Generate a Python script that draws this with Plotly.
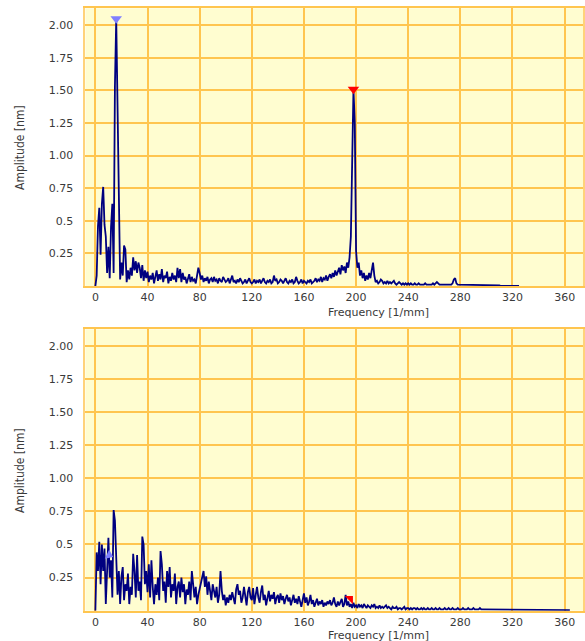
import plotly.graph_objects as go

# ---------------- data ----------------
FREQ_STEP = 1.0  # [1/mm] spacing of spectrum samples

TOP_AMP = [
    0.00, 0.08, 0.46, 0.60, 0.24, 0.63, 0.76, 0.47, 0.38, 0.10, 0.30, 0.06, 0.45, 0.63, 0.10, 1.53, 2.05, 1.35, 0.48, 0.05,
    0.18, 0.08, 0.31, 0.28, 0.03, 0.12, 0.05, 0.14, 0.08, 0.22, 0.12, 0.19, 0.10, 0.18, 0.14, 0.06, 0.16, 0.04, 0.12, 0.06,
    0.11, 0.03, 0.08, 0.05, 0.10, 0.02, 0.07, 0.12, 0.04, 0.09, 0.05, 0.13, 0.03, 0.08, 0.06, 0.11, 0.02, 0.07, 0.04, 0.10,
    0.05, 0.08, 0.03, 0.14, 0.06, 0.13, 0.03, 0.10, 0.05, 0.07, 0.02, 0.06, 0.09, 0.03, 0.07, 0.04, 0.05, 0.02, 0.08, 0.14,
    0.10, 0.05, 0.08, 0.03, 0.06, 0.04, 0.07, 0.02, 0.05, 0.06, 0.03, 0.07, 0.04, 0.05, 0.02, 0.06, 0.04, 0.03, 0.07, 0.05,
    0.03, 0.04, 0.06, 0.02, 0.05, 0.08, 0.03, 0.04, 0.02, 0.05, 0.03, 0.06, 0.04, 0.02, 0.03, 0.05, 0.02, 0.04, 0.06, 0.03,
    0.02, 0.03, 0.05, 0.02, 0.04, 0.03, 0.05, 0.02, 0.04, 0.06, 0.03, 0.02, 0.04, 0.03, 0.05, 0.02, 0.03, 0.08, 0.04, 0.05,
    0.02, 0.03, 0.05, 0.04, 0.02, 0.04, 0.06, 0.03, 0.02, 0.04, 0.03, 0.05, 0.02, 0.03, 0.07, 0.04, 0.02, 0.03, 0.05, 0.02,
    0.04, 0.03, 0.02, 0.04, 0.03, 0.05, 0.02, 0.03, 0.04, 0.06, 0.03, 0.05, 0.04, 0.07, 0.03, 0.06, 0.05, 0.08, 0.04, 0.07,
    0.09, 0.06, 0.10, 0.07, 0.12, 0.08, 0.11, 0.14, 0.09, 0.16, 0.12, 0.15, 0.10, 0.18, 0.14, 0.22, 0.38, 0.90, 1.51, 1.25,
    0.27, 0.14, 0.18, 0.08, 0.12, 0.06, 0.10, 0.04, 0.08, 0.05, 0.10, 0.06, 0.14, 0.18, 0.08, 0.03, 0.04, 0.02, 0.03, 0.05,
    0.04, 0.02, 0.03, 0.02, 0.04, 0.02, 0.03, 0.02, 0.03, 0.04, 0.02, 0.01, 0.02, 0.03, 0.02, 0.01, 0.02, 0.01, 0.02, 0.01,
    0.02, 0.01, 0.02, 0.01, 0.01, 0.02, 0.01, 0.01, 0.02, 0.01, 0.01, 0.01, 0.01, 0.02, 0.01, 0.01, 0.01, 0.01, 0.01, 0.02,
    0.01, 0.02, 0.03, 0.02, 0.01, 0.01, 0.01, 0.01, 0.01, 0.01, 0.01, 0.01, 0.01, 0.01, 0.02, 0.05, 0.06, 0.02, 0.01, 0.01,
    0.01, 0.01, 0.005, 0.01, 0.01, 0.005, 0.01, 0.01, 0.01, 0.005, 0.01, 0.01, 0.005, 0.01, 0.01, 0.005, 0.01, 0.005, 0.01, 0.01,
    0.005, 0.01, 0.005, 0.01, 0.005, 0.005, 0.01, 0.005, 0.005, 0.01, 0.005, 0.0, 0.0, 0.0, 0.0, 0.0, 0.0, 0.0, 0.0, 0.0,
    0.005, 0.0, 0.0, 0.0, 0.005, 0.0,
]

BOTTOM_AMP = [
    0.00, 0.44, 0.30, 0.52, 0.20, 0.50, 0.30, 0.47, 0.05, 0.40, 0.55, 0.25, 0.38, 0.10, 0.76, 0.68, 0.35, 0.12, 0.30, 0.05,
    0.26, 0.33, 0.08, 0.20, 0.15, 0.28, 0.05, 0.18, 0.12, 0.43, 0.30, 0.10, 0.42, 0.15, 0.22, 0.08, 0.56, 0.50, 0.20, 0.30,
    0.14, 0.35, 0.10, 0.38, 0.18, 0.05, 0.20, 0.12, 0.25, 0.08, 0.45, 0.35, 0.15, 0.22, 0.06, 0.30, 0.18, 0.33, 0.10, 0.20,
    0.15, 0.28, 0.05, 0.18, 0.22, 0.10, 0.25, 0.14, 0.20, 0.05, 0.16, 0.12, 0.22, 0.08, 0.30, 0.20, 0.10, 0.18, 0.05, 0.12,
    0.16, 0.20, 0.24, 0.30, 0.18, 0.26, 0.12, 0.22, 0.15, 0.08, 0.20, 0.14, 0.10, 0.18, 0.06, 0.12, 0.30, 0.15, 0.08, 0.12,
    0.04, 0.10, 0.06, 0.12, 0.08, 0.14, 0.10, 0.05, 0.16, 0.20, 0.12, 0.15, 0.06, 0.10, 0.18, 0.12, 0.04, 0.14, 0.18, 0.10,
    0.08, 0.17, 0.05, 0.12, 0.18, 0.10, 0.06, 0.14, 0.19, 0.08, 0.12, 0.04, 0.10, 0.15, 0.07, 0.12, 0.09, 0.14, 0.05, 0.10,
    0.12, 0.06, 0.13, 0.08, 0.11, 0.05, 0.09, 0.12, 0.07, 0.10, 0.04, 0.08, 0.12, 0.06, 0.09, 0.05, 0.11, 0.07, 0.03, 0.08,
    0.13, 0.06, 0.10, 0.04, 0.07, 0.12, 0.05, 0.08, 0.03, 0.06, 0.09, 0.04, 0.07, 0.05, 0.08, 0.03, 0.06, 0.04, 0.07, 0.05,
    0.08, 0.04, 0.06, 0.10, 0.05, 0.03, 0.07, 0.04, 0.06, 0.09, 0.03, 0.05, 0.12, 0.04, 0.07, 0.03, 0.05, 0.02, 0.06, 0.03,
    0.04, 0.02, 0.05, 0.03, 0.04, 0.02, 0.05, 0.03, 0.02, 0.04, 0.03, 0.02, 0.04, 0.03, 0.05, 0.02, 0.03, 0.02, 0.04, 0.02,
    0.03, 0.02, 0.03, 0.04, 0.02, 0.03, 0.02, 0.01, 0.03, 0.02, 0.02, 0.03, 0.01, 0.02, 0.02, 0.01, 0.02, 0.03, 0.01, 0.02,
    0.02, 0.01, 0.02, 0.01, 0.02, 0.02, 0.01, 0.02, 0.01, 0.01, 0.02, 0.01, 0.02, 0.01, 0.01, 0.02, 0.01, 0.01, 0.02, 0.01,
    0.01, 0.02, 0.01, 0.01, 0.02, 0.01, 0.01, 0.01, 0.02, 0.01, 0.01, 0.02, 0.01, 0.01, 0.02, 0.01, 0.01, 0.01, 0.02, 0.01,
    0.01, 0.01, 0.02, 0.01, 0.01, 0.01, 0.02, 0.01, 0.01, 0.01, 0.02, 0.01, 0.01, 0.01, 0.01, 0.02, 0.01, 0.01, 0.01, 0.01,
    0.01, 0.005, 0.01, 0.01, 0.005, 0.01, 0.005, 0.01, 0.01, 0.005, 0.01, 0.005, 0.01, 0.005, 0.01, 0.005, 0.01, 0.005, 0.005, 0.01,
    0.005, 0.01, 0.005, 0.005, 0.01, 0.005, 0.005, 0.01, 0.005, 0.005, 0.01, 0.005, 0.005, 0.005, 0.01, 0.005, 0.005, 0.005, 0.01, 0.005,
    0.005, 0.005, 0.01, 0.005, 0.005, 0.005, 0.005, 0.01, 0.005, 0.005, 0.005, 0.005, 0.005, 0.01, 0.005, 0.005, 0.005, 0.005, 0.005, 0.005,
    0.005, 0.005, 0.005, 0.005, 0.005,
]

# cursor markers: (freq, amplitude)
TOP_CURSOR_BLUE = (16.0, 2.05)
TOP_CURSOR_RED = (198.0, 1.51)
BOT_CURSOR_BLUE = (10.5, 0.42)
BOT_CURSOR_RED = (195.5, 0.09)

X_TICKS = [0, 40, 80, 120, 160, 200, 240, 280, 320, 360]
Y_TICKS = [0.25, 0.5, 0.75, 1.0, 1.25, 1.5, 1.75, 2.0]
Y_TICK_TEXT = ["0.25", "0.5", "0.75", "1.00", "1.25", "1.50", "1.75", "2.00"]

X_TITLE = "Frequency [1/mm]"
Y_TITLE = "Amplitude [nm]"

# ---------------- style ----------------
W, H = 585, 641
BG = "#FFFDD0"
GRID = "#FFC54F"
FRAME = "#FFD27A"
LINE = "#000080"
TICK_FONT = dict(family="DejaVu Sans, Verdana, sans-serif", size=11, color="#3a3a3a")

top_x = [i * FREQ_STEP for i in range(len(TOP_AMP))]
bot_x = [i * FREQ_STEP for i in range(len(BOTTOM_AMP))]

fig = go.Figure()
fig.add_trace(go.Scatter(x=top_x, y=TOP_AMP, mode="lines",
                         line=dict(color=LINE, width=1.8), xaxis="x", yaxis="y",
                         hoverinfo="skip"))
fig.add_trace(go.Scatter(x=bot_x, y=BOTTOM_AMP, mode="lines",
                         line=dict(color=LINE, width=1.8), xaxis="x2", yaxis="y2",
                         hoverinfo="skip"))

fig.add_trace(go.Scatter(x=[TOP_CURSOR_BLUE[0]], y=[TOP_CURSOR_BLUE[1]], mode="markers",
                         marker=dict(symbol="triangle-down", size=10, color="#7F7FFF"),
                         xaxis="x", yaxis="y"))
fig.add_trace(go.Scatter(x=[TOP_CURSOR_RED[0]], y=[TOP_CURSOR_RED[1]], mode="markers",
                         marker=dict(symbol="triangle-down", size=10, color="#FF0000"),
                         xaxis="x", yaxis="y"))
fig.add_trace(go.Scatter(x=[BOT_CURSOR_BLUE[0]], y=[BOT_CURSOR_BLUE[1]], mode="markers",
                         marker=dict(symbol="triangle-right", size=9, angle=25, color="#7F7FFF"),
                         xaxis="x2", yaxis="y2"))
fig.add_trace(go.Scatter(x=[BOT_CURSOR_RED[0]], y=[BOT_CURSOR_RED[1]], mode="markers",
                         marker=dict(symbol="triangle-ne", size=9, color="#FF0000"),
                         xaxis="x2", yaxis="y2"))

x_left = 85.7
x0_px = 95.7
px_per_unit = 1.308
x_range = [(x_left - x0_px) / px_per_unit, (W - x0_px) / px_per_unit]


def xaxis(anchor, domain_x):
    return dict(domain=domain_x, range=x_range, anchor=anchor,
                tickvals=X_TICKS, ticktext=[str(v) for v in X_TICKS],
                showgrid=True, gridcolor=GRID, gridwidth=2,
                zeroline=False, showline=True, linecolor=GRID, linewidth=2,
                mirror=True, ticks="", ticklen=0, tickfont=TICK_FONT, fixedrange=True)


def yaxis(anchor, domain_y, top):
    return dict(domain=domain_y, range=[0, top], anchor=anchor,
                tickvals=Y_TICKS, ticktext=Y_TICK_TEXT,
                showgrid=True, gridcolor=GRID, gridwidth=2,
                zeroline=False, showline=True, linecolor=FRAME, linewidth=2,
                mirror=True, ticks="", ticklen=0, tickfont=TICK_FONT,
                ticklabelstandoff=8, fixedrange=True)


dom_x = [x_left / W, 1.0]
top_dom = [1 - 286.0 / H, 1 - 8.3 / H]
bot_dom = [1 - 610.7 / H, 1 - 329.3 / H]

fig.update_layout(
    width=W, height=H,
    margin=dict(l=0, r=0, t=0, b=0),
    paper_bgcolor="white",
    plot_bgcolor=BG,
    showlegend=False,
    xaxis=xaxis("y", dom_x),
    yaxis=yaxis("x", top_dom, 2.13),
    xaxis2=xaxis("y2", dom_x),
    yaxis2=yaxis("x2", bot_dom, 2.125),
)

TITLE_FONT = dict(family="DejaVu Sans, Verdana, sans-serif", size=11, color="#3a3a3a")
YT_FONT = dict(family="Liberation Sans Narrow, Arial Narrow, DejaVu Sans Condensed, sans-serif",
               size=12, color="#3a3a3a")

for yc in (312.0, 635.5):
    fig.add_annotation(text=X_TITLE, xref="paper", yref="paper",
                       x=380.0 / W, y=1 - yc / H, showarrow=False,
                       xanchor="center", yanchor="middle", font=TITLE_FONT)
for yc in (147.0, 470.0):
    fig.add_annotation(text=Y_TITLE, xref="paper", yref="paper",
                       x=20.0 / W, y=1 - yc / H, showarrow=False, textangle=-90,
                       xanchor="center", yanchor="middle", font=YT_FONT)

fig.write_html("out.html")
